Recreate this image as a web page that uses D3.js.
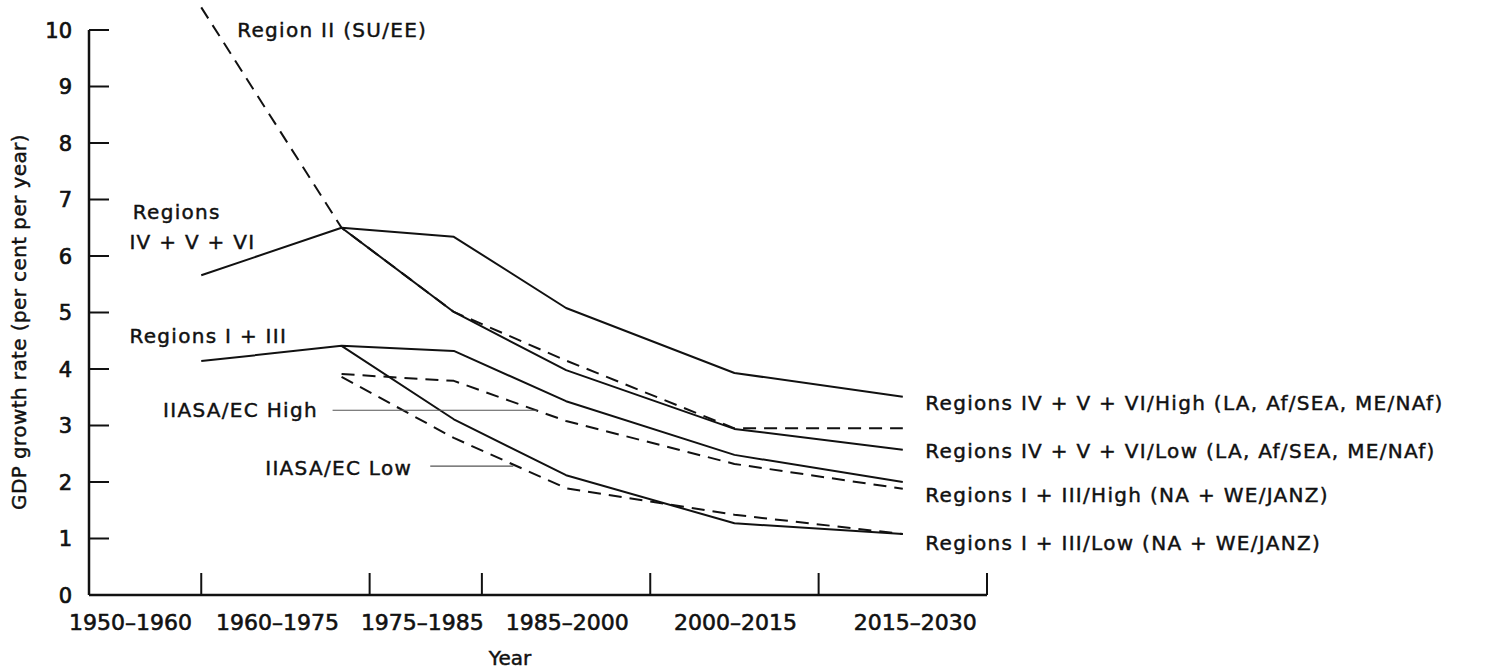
<!DOCTYPE html>
<html>
<head>
<meta charset="utf-8">
<script src="https://cdn.jsdelivr.net/npm/d3@7"></script>
<style>
  body { margin: 0; background: #fff; }
  svg { display: block; font-family: "DejaVu Sans", "Liberation Sans", Arial, sans-serif; }
  .axis-line { stroke: #111; stroke-width: 2.5; fill: none; }
  .series { fill: none; stroke: #111; stroke-width: 2; stroke-linejoin: round; }
  .dashed { stroke-dasharray: 13 8; }
  .leader { stroke: #555; stroke-width: 1.2; }
  text { fill: #111; stroke: #111; stroke-width: 0.45px; }
</style>
</head>
<body>
<div class="chart-container"></div>
<script>
// points are plotted at these years
const years = [1960, 1972.5, 1982.5, 1992.5, 2007.5, 2022.5];

const devHigh = [5.66, 6.50, 6.34, 5.08, 3.93, 3.51];
const devLow = [null, 6.50, 5.01, 3.98, 2.94, 2.57];
const regionII = [10.4, 6.50, 5.01, 4.15, 2.95, 2.95];
const indHigh = [4.14, 4.41, 4.32, 3.43, 2.48, 2.00];
const indLow = [null, 4.41, 3.11, 2.12, 1.27, 1.08];
const iiasaHigh = [null, 3.91, 3.79, 3.08, 2.32, 1.88];
const iiasaLow = [null, 3.86, 2.78, 1.89, 1.42, 1.08];

const yTicks = [0, 1, 2, 3, 4, 5, 6, 7, 8, 9, 10];
const periodBreaks = [1950, 1960, 1975, 1985, 2000, 2015, 2030];
const periodLabels = ["1950\u20131960", "1960\u20131975", "1975\u20131985", "1985\u20132000", "2000\u20132015", "2015\u20132030"];
// where each period label sits under the axis
const periodLabelYears = [1953.7, 1966.8, 1979.7, 1992.6, 2007.6, 2023.6];

const seriesList = [
  {values: devHigh, dashed: false},
  {values: devLow, dashed: false},
  {values: regionII, dashed: true},
  {values: indHigh, dashed: false},
  {values: indLow, dashed: false},
  {values: iiasaHigh, dashed: true},
  {values: iiasaLow, dashed: true}
];

// annotation text: [text, year, value]
const notes = [
  ["Region II (SU/EE)", 1963.2, 10.0],
  ["Regions", 1953.9, 6.78],
  ["IV + V + VI", 1953.6, 6.25],
  ["Regions I + III", 1953.6, 4.58],
  ["IIASA/EC High", 1956.6, 3.27],
  ["IIASA/EC Low", 1965.7, 2.25],
  ["Regions IV + V + VI/High (LA, Af/SEA, ME/NAf)", 2024.5, 3.40],
  ["Regions IV + V + VI/Low (LA, Af/SEA, ME/NAf)", 2024.5, 2.56],
  ["Regions I + III/High (NA + WE/JANZ)", 2024.5, 1.77],
  ["Regions I + III/Low (NA + WE/JANZ)", 2024.5, 0.93]
];

// leader lines from labels to the IIASA curves: [year1, year2, value]
const leaders = [
  [1971.7, 1989.9, 3.27],
  [1980.4, 1987.8, 2.28]
];

const width = 1485, height = 672;
const x = d3.scaleLinear().domain([1950, 2030]).range([89, 987]);
const y = d3.scaleLinear().domain([0, 10]).range([595, 30]);

const svg = d3.select(".chart-container").append("svg")
    .attr("width", width)
    .attr("height", height);

// y axis: ticks point inward
svg.append("line").attr("class", "axis-line")
    .attr("x1", x(1950)).attr("x2", x(1950))
    .attr("y1", y(10)).attr("y2", y(0));
svg.selectAll(".ytick").data(yTicks.filter(d => d > 0)).enter().append("line")
    .attr("class", "axis-line ytick")
    .style("stroke-width", 2)
    .attr("x1", x(1950)).attr("x2", x(1950) + 20)
    .attr("y1", d => y(d)).attr("y2", d => y(d));
svg.selectAll(".ylab").data(yTicks).enter().append("text")
    .attr("class", "ylab")
    .attr("x", 72)
    .attr("y", d => y(d))
    .attr("dy", "0.36em")
    .attr("text-anchor", "end")
    .style("font-size", "21px")
    .style("stroke-width", "0.7px")
    .text(d => d);

// x axis with period break ticks pointing up
svg.append("line").attr("class", "axis-line")
    .attr("x1", x(1950)).attr("x2", x(2030))
    .attr("y1", y(0)).attr("y2", y(0));
svg.selectAll(".xtick").data(periodBreaks.slice(1)).enter().append("line")
    .attr("class", "axis-line xtick")
    .style("stroke-width", 2)
    .attr("x1", d => x(d)).attr("x2", d => x(d))
    .attr("y1", y(0)).attr("y2", y(0) - 22);
svg.selectAll(".xlab").data(periodLabels).enter().append("text")
    .attr("class", "xlab")
    .attr("x", (d, i) => x(periodLabelYears[i]))
    .attr("y", 630)
    .attr("text-anchor", "middle")
    .style("font-size", "22px")
    .style("stroke-width", "0.6px")
    .text(d => d);

svg.append("text")
    .attr("x", 510).attr("y", 665)
    .attr("text-anchor", "middle")
    .style("font-size", "20px")
    .text("Year");

svg.append("text")
    .attr("transform", "translate(26," + 322 + ") rotate(-90)")
    .attr("text-anchor", "middle")
    .style("font-size", "20px")
    .style("letter-spacing", "0.4px")
    .text("GDP growth rate (per cent per year)");

const line = d3.line()
    .defined(d => d[1] !== null)
    .x(d => x(d[0]))
    .y(d => y(d[1]));

svg.selectAll(".series").data(seriesList).enter().append("path")
    .attr("class", d => d.dashed ? "series dashed" : "series")
    .attr("d", d => line(years.map((yr, i) => [yr, d.values[i]])));

svg.selectAll(".leader").data(leaders).enter().append("line")
    .attr("class", "leader")
    .attr("x1", d => x(d[0])).attr("x2", d => x(d[1]))
    .attr("y1", d => y(d[2])).attr("y2", d => y(d[2]));

svg.selectAll(".note").data(notes).enter().append("text")
    .attr("class", "note")
    .attr("x", d => x(d[1]))
    .attr("y", d => y(d[2]))
    .attr("dy", "0.36em")
    .style("font-size", "20px")
    .style("letter-spacing", "1.3px")
    .text(d => d[0]);
</script>
</body>
</html>
